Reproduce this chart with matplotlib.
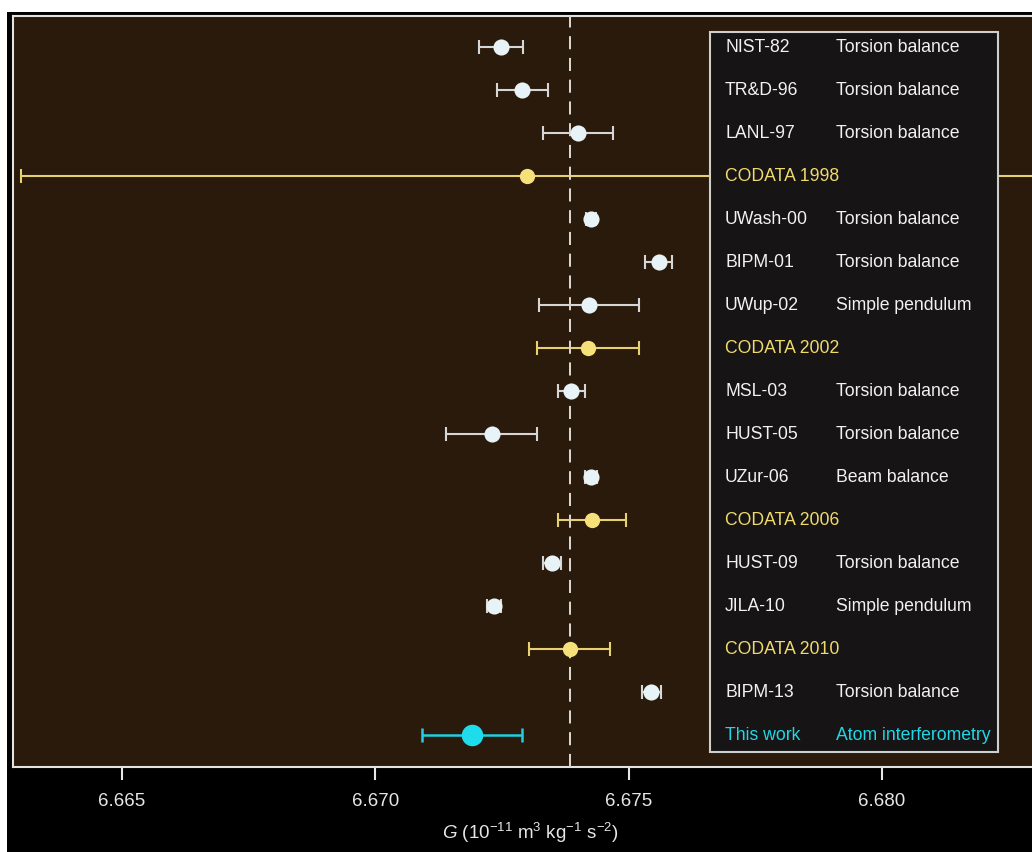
import numpy as np
import matplotlib.pyplot as plt
from matplotlib.patches import Rectangle

plt.rcParams['font.family'] = ['Liberation Sans', 'DejaVu Sans']
plt.rcParams['mathtext.fontset'] = 'custom'
plt.rcParams['mathtext.rm'] = 'Liberation Sans'
plt.rcParams['mathtext.it'] = 'Liberation Sans:italic'

# Measurements of G (10^-11 m^3 kg^-1 s^-2), top to bottom
labels = ['NIST-82', 'TR&D-96', 'LANL-97', 'CODATA 1998', 'UWash-00', 'BIPM-01',
          'UWup-02', 'CODATA 2002', 'MSL-03', 'HUST-05', 'UZur-06', 'CODATA 2006',
          'HUST-09', 'JILA-10', 'CODATA 2010', 'BIPM-13', 'This work']
methods = ['Torsion balance', 'Torsion balance', 'Torsion balance', '',
           'Torsion balance', 'Torsion balance', 'Simple pendulum', '',
           'Torsion balance', 'Torsion balance', 'Beam balance', '',
           'Torsion balance', 'Simple pendulum', '', 'Torsion balance',
           'Atom interferometry']
G_vals = [6.67248, 6.6729, 6.6740, 6.673, 6.674255, 6.67559, 6.67422, 6.6742,
          6.67387, 6.6723, 6.67425, 6.67428, 6.67349, 6.67234, 6.67384, 6.67545,
          6.67191]
G_errs = [0.00043, 0.0005, 0.0007, 0.010, 0.000092, 0.00027, 0.00098, 0.0010,
          0.00027, 0.0009, 0.00012, 0.00067, 0.00018, 0.00014, 0.00080, 0.00018,
          0.00099]
kinds = ['exp', 'exp', 'exp', 'codata', 'exp', 'exp', 'exp', 'codata',
         'exp', 'exp', 'exp', 'codata', 'exp', 'exp', 'codata', 'exp', 'this']
codata_2010 = 6.67384
xticks = [6.665, 6.670, 6.675, 6.680]

styles = {
    'exp':    dict(mc='#e8f3f7', lc='#d6d6d6', ms=11.6, lw=1.5, cap=4.7, tc='#f2f2f2'),
    'codata': dict(mc='#f6e07a', lc='#e6d070', ms=11.0, lw=1.5, cap=5.2, tc='#f0da6c'),
    'this':   dict(mc='#1fdcec', lc='#22cfdf', ms=15.5, lw=1.8, cap=5.2, tc='#22d6e6'),
}

fig = plt.figure(figsize=(10.32, 8.52), dpi=100, facecolor='white')
fig.patches.append(Rectangle((7 / 1032, 0), 1, 1 - 12 / 852, transform=fig.transFigure,
                             facecolor='black', edgecolor='none', zorder=-5))

ax = fig.add_axes([13 / 1032, 1 - 767 / 852, 1027 / 1032, 751 / 852])
ax.set_facecolor('#2a1a0b')

rows = np.arange(len(labels))
for i in rows:
    s = styles[kinds[i]]
    ax.errorbar(G_vals[i], i, xerr=G_errs[i], fmt='none', ecolor=s['lc'],
                elinewidth=s['lw'], capsize=s['cap'], capthick=s['lw'], zorder=2)
    ax.plot(G_vals[i], i, 'o', color=s['mc'], ms=s['ms'], mec='none', zorder=4)

ax.axvline(codata_2010, color='#d8d4cf', lw=1.45, ls=(0, (6.5, 4.3)), zorder=3)

# label table
ax.add_patch(Rectangle((0.6787, 0.02), 0.2804, 0.9587, transform=ax.transAxes,
                       facecolor='#161414', edgecolor='#cfcfcf', lw=1.5, zorder=5))
tr = ax.get_yaxis_transform()
for i in rows:
    c = styles[kinds[i]]['tc']
    ax.text(0.6933, i, labels[i], transform=tr, color=c, fontsize=12.7,
            va='center', ha='left', zorder=6)
    ax.text(0.8014, i, methods[i], transform=tr, color=c, fontsize=12.7,
            va='center', ha='left', zorder=6)

ax.set_xlim(6.662848, 6.683119)
ax.set_ylim(16.744, -0.721)
ax.set_yticks([])
ax.set_xticks(xticks)
ax.set_xticklabels([f'{t:.3f}' for t in xticks])
ax.tick_params(axis='x', direction='out', length=9.5, width=1.5, color='#e6e6e6',
               labelcolor='#e6e6e6', labelsize=13.5, pad=9)
for side in ['top', 'left', 'bottom']:
    ax.spines[side].set_color('#e2e2e2')
    ax.spines[side].set_linewidth(1.5)
ax.spines['right'].set_visible(False)

ax.set_xlabel(r'$G$ (10$^{-11}$ m$^{3}$ kg$^{-1}$ s$^{-2}$)', color='#e6e6e6',
              fontsize=13.5)
ax.xaxis.set_label_coords((530 - 13) / 1027, -0.072)

fig.savefig('out.png', dpi=100, facecolor=fig.get_facecolor())
